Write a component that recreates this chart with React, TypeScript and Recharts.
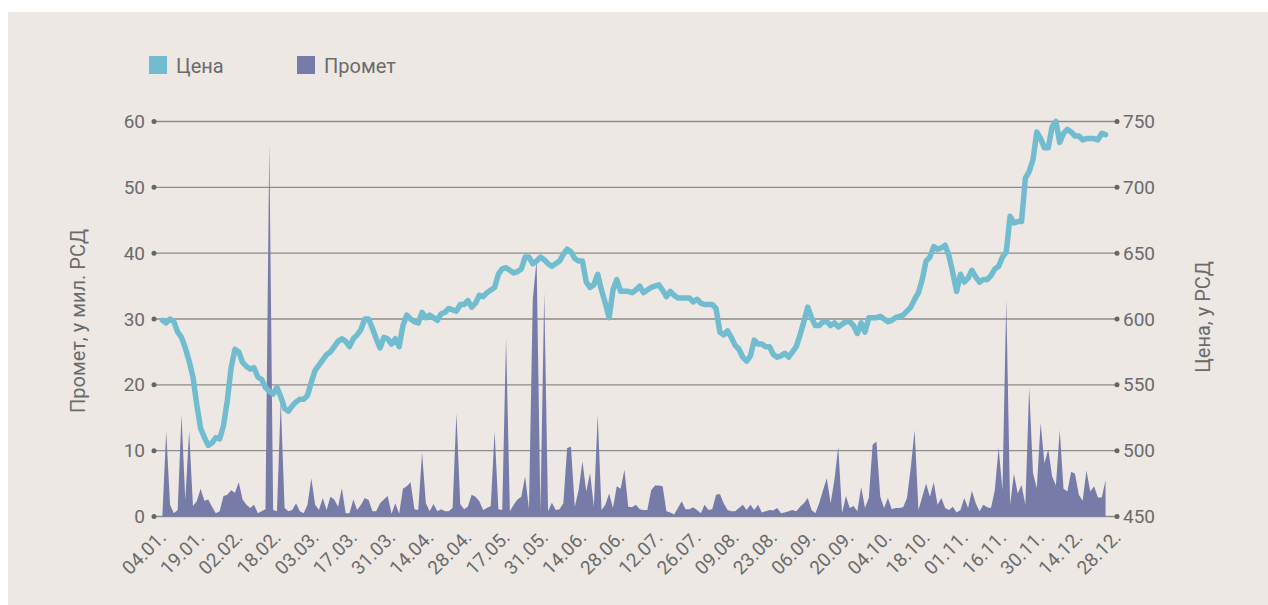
import React from 'react';
import { ComposedChart, Area, Line, XAxis, YAxis, CartesianGrid } from 'recharts';

// dates shown under the axis, one every 10 trading days
const dateLabels = [
  '04.01.', '19.01.', '02.02.', '18.02.', '03.03.', '17.03.', '31.03.', '14.04.', '28.04.',
  '17.05.', '31.05.', '14.06.', '28.06.', '12.07.', '26.07.', '09.08.', '23.08.', '06.09.',
  '20.09.', '04.10.', '18.10.', '01.11.', '16.11.', '30.11.', '14.12.', '28.12.',
];

// Цена, у РСД (daily close)
const priceRsd = [
  599, 597, 600, 598, 590, 586, 578, 568, 556, 535,
  517, 510, 504, 506, 510, 509, 519, 538, 563, 577,
  575, 567, 564, 562, 563, 556, 554, 548, 545, 543,
  548, 541, 532, 530, 534, 537, 539, 539, 542, 552,
  561, 565, 569, 573, 575, 579, 583, 585, 583, 579,
  585, 588, 592, 600, 600, 593, 585, 578, 586, 585,
  581, 585, 579, 595, 603, 600, 598, 597, 605, 601,
  603, 601, 599, 604, 605, 608, 607, 606, 611, 611,
  614, 609, 612, 618, 617, 620, 622, 624, 634, 638,
  639, 637, 635, 636, 638, 647, 647, 642, 644, 647,
  645, 642, 640, 642, 644, 649, 653, 651, 646, 644,
  644, 628, 624, 626, 634, 622, 612, 601, 622, 630,
  621, 621, 621, 620, 622, 625, 620, 622, 624, 625,
  626, 622, 617, 621, 618, 616, 616, 616, 616, 613,
  615, 612, 611, 611, 611, 608, 590, 588, 591, 586,
  580, 577, 571, 568, 572, 584, 581, 581, 579, 579,
  573, 571, 572, 574, 571, 575, 579, 588, 598, 609,
  601, 595, 595, 598, 598, 595, 597, 594, 596, 598,
  598, 595, 589, 597, 590, 601, 601, 601, 602, 600,
  598, 599, 601, 602, 603, 606, 609, 615, 620, 630,
  644, 647, 655, 653, 654, 656, 648, 635, 621, 634,
  628, 631, 637, 632, 628, 630, 630, 633, 638, 640,
  647, 651, 678, 673, 674, 674, 707, 712, 721, 742,
  737, 730, 730, 746, 750, 734, 741, 744, 742, 739,
  739, 736, 737, 737, 737, 736, 741, 740,
];

// Промет, у мил. РСД
const turnoverMil = [
  0.3, 12.9, 1.8, 0.5, 1.0, 15.4, 2.5, 13, 1.6, 2.3,
  4.2, 2.4, 2.6, 1.5, 0.5, 0.8, 3.1, 3.3, 4.0, 3.6,
  5.2, 2.6, 1.8, 1.3, 1.8, 0.5, 0.8, 1.1, 56.7, 1.0,
  0.8, 17.5, 1.3, 0.8, 1.0, 2.0, 0.8, 0.5, 1.8, 5.8,
  1.8, 1.0, 2.8, 1.0, 3.0, 2.6, 1.5, 4.3, 0.5, 0.5,
  2.6, 1.0, 1.8, 2.8, 2.5, 0.8, 0.8, 2.0, 2.6, 3.1,
  0.4, 2.0, 0.4, 4.2, 4.6, 5.2, 1.1, 1.0, 9.7, 2.0,
  0.8, 1.9, 0.8, 1.1, 0.8, 0.8, 1.3, 15.7, 1.9, 1.1,
  1.5, 3.3, 3.0, 2.3, 1.0, 1.3, 1.6, 12.9, 1.1, 1.0,
  27.1, 0.8, 1.8, 2.6, 3.0, 6.1, 1.1, 33, 39, 0.8,
  34, 0.8, 2.1, 1.0, 1.1, 2.0, 10.4, 10.6, 1.5, 4.0,
  8.4, 3.8, 6.6, 1.5, 15.4, 1.0, 1.8, 3.5, 1.3, 4.6,
  4.2, 7.1, 1.5, 1.4, 1.8, 1.1, 1.0, 1.0, 4.0, 4.7,
  4.7, 4.6, 0.8, 0.6, 0.3, 1.3, 2.3, 1.1, 1.1, 1.4,
  1.0, 0.5, 1.8, 1.0, 1.1, 3.3, 3.4, 2.0, 1.0, 0.8,
  0.8, 1.3, 1.8, 1.0, 1.8, 1.0, 1.8, 0.6, 0.8, 1.0,
  0.9, 1.3, 0.5, 0.6, 0.8, 1.0, 0.8, 1.5, 2.0, 2.8,
  1.0, 0.5, 2.0, 4.0, 5.8, 2.0, 5.6, 10.6, 0.5, 3.1,
  1.3, 1.6, 0.8, 4.5, 1.3, 2.8, 10.9, 11.4, 3.0, 1.3,
  2.8, 1.1, 1.3, 1.3, 1.4, 2.8, 7.5, 13.1, 1.0, 3.0,
  5.0, 3.0, 5.2, 1.8, 2.8, 1.3, 1.0, 1.5, 0.6, 1.0,
  2.8, 1.3, 3.9, 2.0, 0.8, 1.8, 1.4, 1.3, 4.0, 10.5,
  4.0, 32.9, 1.8, 6.5, 3.5, 4.8, 1.8, 19.6, 6.6, 4.3,
  14.2, 8.1, 10.2, 6.1, 4.7, 13.1, 4.2, 3.8, 6.8, 6.5,
  3.3, 2.4, 7.0, 3.8, 4.6, 2.9, 2.9, 5.5,
];

const turnoverTicks = [0, 10, 20, 30, 40, 50, 60];
const priceTicks = [450, 500, 550, 600, 650, 700, 750];

const chartData = priceRsd.map((price, i) => ({ day: i, price, turnover: turnoverMil[i] }));
const dayTicks = dateLabels.map((_, k) => k * 10);

const PRICE_COLOR = '#72bccf';
const TURNOVER_COLOR = '#777ba8';
const TEXT = '#6b6b6b';
const FONT = 'Roboto, sans-serif';

const LeftTick = ({ x, y, payload }: any) => (
  <g>
    <circle cx={x} cy={y} r={2.5} fill="#666" />
    <text x={x - 9} y={y} dy="0.35em" textAnchor="end" fill={TEXT} fontSize={19} fontFamily={FONT}>
      {payload.value}
    </text>
  </g>
);

const RightTick = ({ x, y, payload }: any) => (
  <g>
    <circle cx={x} cy={y} r={2.5} fill="#666" />
    <text x={x + 6} y={y} dy="0.35em" textAnchor="start" fill={TEXT} fontSize={19} fontFamily={FONT}>
      {payload.value}
    </text>
  </g>
);

const DateTick = ({ x, y, payload }: any) => (
  <text
    transform={`translate(${x + 5},${y + 22}) rotate(-45)`}
    textAnchor="end"
    fill={TEXT}
    fontSize={19}
    fontFamily={FONT}
  >
    {dateLabels[Math.round(payload.value / 10)]}
  </text>
);

const axisTitle = (title: string, cx: number, cy: number) => () => (
  <text
    transform={`translate(${cx},${cy}) rotate(-90)`}
    dy="0.35em"
    textAnchor="middle"
    fill={TEXT}
    fontSize={20}
    fontFamily={FONT}
  >
    {title}
  </text>
);

const legendItem = (left: number, color: string, label: string) => (
  <div style={{ position: 'absolute', left, top: 44, height: 18 }}>
    <div style={{ position: 'absolute', left: 0, top: 0, width: 18, height: 18, background: color }} />
    <div
      style={{
        position: 'absolute', left: 27, top: 0, fontSize: 20, lineHeight: '20px',
        color: TEXT, fontFamily: FONT, whiteSpace: 'nowrap',
      }}
    >
      {label}
    </div>
  </div>
);

export default function App() {
  return (
    <div style={{ position: 'fixed', left: 8, top: 12, width: 1260, height: 593, background: '#ede8e4' }}>
      {legendItem(141, PRICE_COLOR, 'Цена')}
      {legendItem(289, TURNOVER_COLOR, 'Промет')}
      <ComposedChart
        width={1260}
        height={593}
        data={chartData}
        margin={{ top: 109.5, right: 0, bottom: 28.5, left: 0 }}
      >
        <CartesianGrid yAxisId="vol" vertical={false} stroke="#8c8c8c" strokeWidth={1.3} />
        <XAxis
          dataKey="day"
          type="number"
          domain={[-2.2, 250]}
          ticks={dayTicks}
          interval={0}
          axisLine={false}
          tickLine={false}
          tickSize={0}
          tickMargin={0}
          height={60}
          tick={<DateTick />}
        />
        <YAxis
          yAxisId="vol"
          domain={[0, 60]}
          ticks={turnoverTicks}
          width={146}
          axisLine={false}
          tickLine={false}
          tickSize={0}
          tickMargin={0}
          tick={<LeftTick />}
          label={axisTitle('Промет, у мил. РСД', 70, 309)}
        />
        <YAxis
          yAxisId="price"
          orientation="right"
          domain={[450, 750]}
          ticks={priceTicks}
          width={151}
          axisLine={false}
          tickLine={false}
          tickSize={0}
          tickMargin={0}
          tick={<RightTick />}
          label={axisTitle('Цена, у РСД', 1195, 305)}
        />
        <Area
          yAxisId="vol"
          dataKey="turnover"
          type="linear"
          fill={TURNOVER_COLOR}
          fillOpacity={1}
          stroke="none"
          isAnimationActive={false}
        />
        <Line
          yAxisId="price"
          dataKey="price"
          type="linear"
          stroke={PRICE_COLOR}
          strokeWidth={5.5}
          strokeLinejoin="round"
          strokeLinecap="round"
          dot={false}
          isAnimationActive={false}
        />
      </ComposedChart>
    </div>
  );
}
